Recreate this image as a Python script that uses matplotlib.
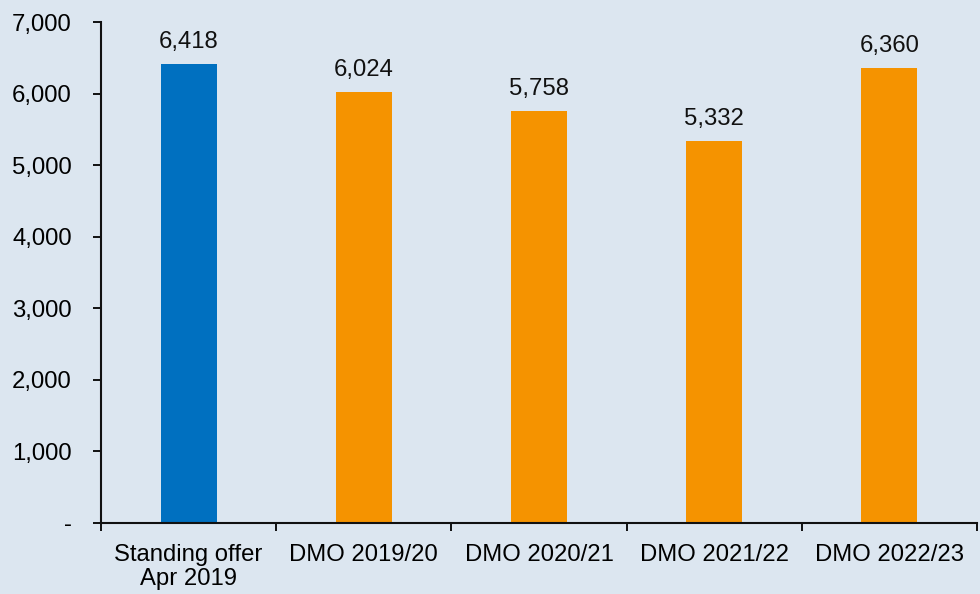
import matplotlib
matplotlib.use("Agg")
import matplotlib.pyplot as plt
from matplotlib.ticker import FuncFormatter, FixedLocator
import numpy as np

categories = ["Standing offer\nApr 2019", "DMO 2019/20", "DMO 2020/21", "DMO 2021/22", "DMO 2022/23"]
values = [6418, 6024, 5758, 5332, 6360]
colors = ["#0070c0", "#f59300", "#f59300", "#f59300", "#f59300"]
yticks = [0, 1000, 2000, 3000, 4000, 5000, 6000, 7000]

plt.rcParams['font.family'] = ['Liberation Sans', 'DejaVu Sans']
bg = "#dce6f0"
fs = 17.2

fig = plt.figure(figsize=(9.8, 5.94), dpi=100, facecolor=bg)
ax = fig.add_axes([101/980, 1-523/594, 876/980, 501/594])
ax.set_facecolor(bg)

x = np.arange(len(categories))
bars = ax.bar(x, values, width=0.32, color=colors, zorder=2)
for xi, v in zip(x, values):
    ax.annotate(f"{v:,}", (xi, v), xytext=(0, 8), textcoords="offset points",
                ha="center", va="bottom", fontsize=fs, color="#111111")

ax.set_xlim(-0.5, len(categories) - 0.5)
ax.set_ylim(0, 7000)
ax.set_yticks(yticks)
ax.yaxis.set_major_formatter(FuncFormatter(lambda v, p: "-" if v == 0 else f"{int(v):,}"))

ax.set_xticks(x)
ax.set_xticklabels(categories, fontsize=fs, linespacing=1.12)
ax.xaxis.set_minor_locator(FixedLocator(np.arange(-0.5, len(categories), 1.0)))
ax.tick_params(axis="x", which="major", length=0, pad=15)
ax.tick_params(axis="x", which="minor", length=6, width=1.3, direction="out")
ax.tick_params(axis="y", length=6, width=1.3, direction="out", pad=15, labelsize=fs)

for s in ["top", "right"]:
    ax.spines[s].set_visible(False)
for s in ["left", "bottom"]:
    ax.spines[s].set_linewidth(1.5)
    ax.spines[s].set_color("#111111")

fig.savefig("out.png", dpi=100, facecolor=bg)
